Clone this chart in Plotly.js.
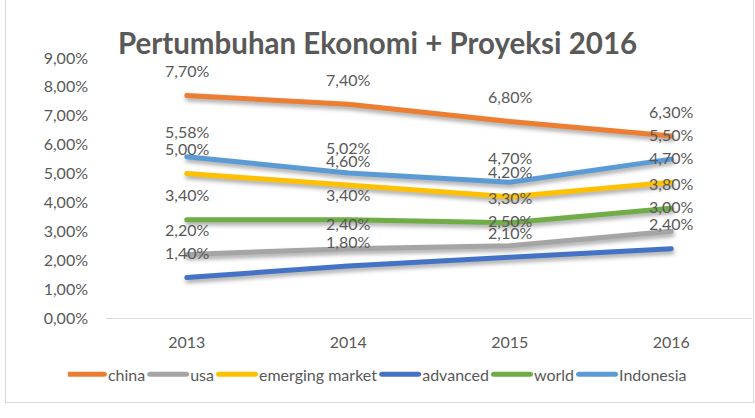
<!DOCTYPE html>
<html>
<head>
<meta charset="utf-8">
<script src="https://cdn.plot.ly/plotly-3.0.1.min.js"></script>
<style>
html,body{margin:0;padding:0;background:#fff;}
#wrap{position:relative;width:755px;height:418px;overflow:hidden;}
#chart{position:absolute;left:0;top:0;width:755px;height:418px;}
#border{position:absolute;left:5px;top:-2px;width:747px;height:403px;border:1px solid #D9D9D9;pointer-events:none;}
.scatterlayer .js-line{filter:drop-shadow(1px 3px 2px rgba(0,0,0,0.35));stroke-linecap:round;}
.legend .legendlines path{transform:translateX(-6px) scaleX(1.2);transform-origin:0 0;stroke-linecap:round;}
</style>
</head>
<body>
<div id="wrap"><div id="chart"></div><div id="border"></div></div>
<script>
const years = [2013, 2014, 2015, 2016];
const seriesNames = ['china', 'usa', 'emerging market', 'advanced', 'world', 'Indonesia'];
const china = [7.70, 7.40, 6.80, 6.30];
const usa = [2.20, 2.40, 2.50, 3.00];
const emergingMarket = [5.00, 4.60, 4.20, 4.70];
const advanced = [1.40, 1.80, 2.10, 2.40];
const world = [3.40, 3.40, 3.30, 3.80];
const indonesia = [5.58, 5.02, 4.70, 5.50];
const colors = ['#ED7D31', '#A5A5A5', '#FFC000', '#4472C4', '#70AD47', '#5B9BD5'];

const allValues = [china, usa, emergingMarket, advanced, world, indonesia];
const fmt = v => v.toFixed(2).replace('.', ',') + '%';
const FONT = 'Lato, "Open Sans", sans-serif';
const GRAY = '#595959';

const traces = allValues.map((vals, i) => ({
  type: 'scatter', mode: 'lines', name: seriesNames[i],
  x: years, y: vals,
  line: {color: colors[i], width: 5},
  hoverinfo: 'skip'
}));

const annotations = [];
allValues.forEach(vals => {
  vals.forEach((v, j) => {
    annotations.push({
      x: years[j], y: v, xref: 'x', yref: 'y',
      text: fmt(v), showarrow: false, yshift: 25,
      font: {family: FONT, size: 16, color: GRAY}
    });
  });
});

const layout = {
  width: 755, height: 418,
  margin: {l: 106, r: 3, t: 58, b: 100},
  paper_bgcolor: '#fff', plot_bgcolor: '#fff',
  separators: ',.',
  title: {
    text: 'Pertumbuhan Ekonomi + Proyeksi 2016',
    font: {family: FONT, size: 29.5, color: GRAY, weight: 'bold'},
    x: 0.5, xanchor: 'center', xref: 'container',
    y: 1 - 44/418, yanchor: 'middle', yref: 'container'
  },
  xaxis: {
    type: 'linear', range: [2012.5, 2016.5], tickvals: years, tickformat: 'd',
    showgrid: false, zeroline: false,
    showline: true, linecolor: '#D9D9D9', linewidth: 1,
    ticks: '', ticklabelstandoff: 10,
    tickfont: {family: FONT, size: 16, color: GRAY}
  },
  yaxis: {
    range: [0, 9], dtick: 1, tick0: 0,
    tickformat: '.2f', ticksuffix: '%',
    showgrid: false, zeroline: false, showline: false,
    ticks: '', ticklabelstandoff: 17,
    tickfont: {family: FONT, size: 16, color: GRAY}
  },
  showlegend: true,
  legend: {
    orientation: 'h', x: 0.424, xanchor: 'center',
    y: -0.217, yanchor: 'middle',
    font: {family: FONT, size: 16, color: GRAY},
    tracegroupgap: 0
  },
  annotations: annotations
};

Plotly.newPlot('chart', traces, layout, {displayModeBar: false, staticPlot: true});
</script>
</body>
</html>
